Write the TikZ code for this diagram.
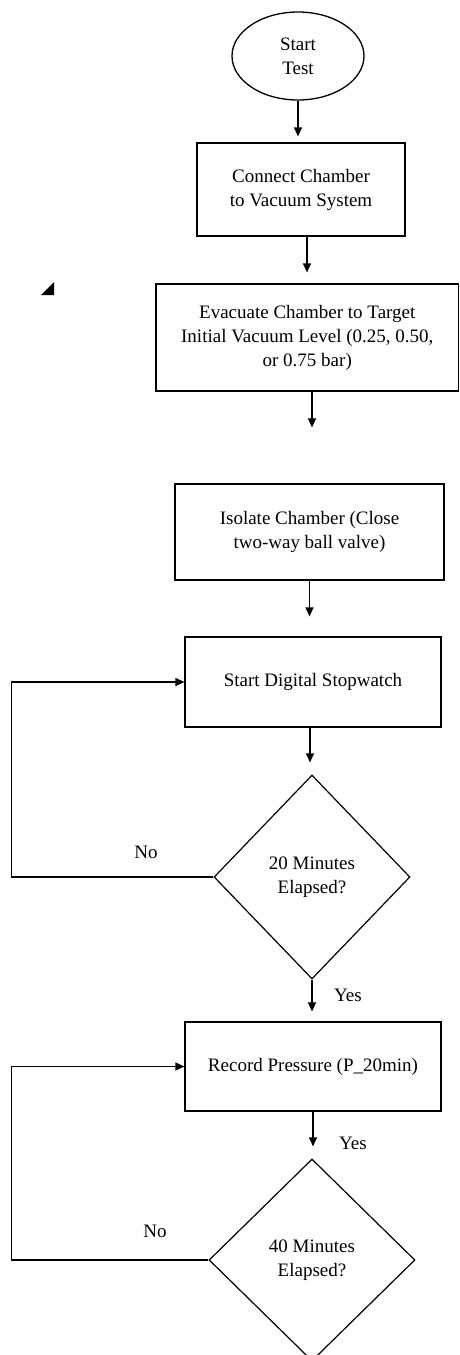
\documentclass[tikz,border=0pt]{standalone}
\usepackage{fontspec}
\setmainfont{Liberation Serif}
\usetikzlibrary{shapes.geometric,arrows.meta}

\begin{document}
\begin{tikzpicture}[x=1pt,y=-1pt,
  every node/.style={font=\fontsize{19}{24}\selectfont},
  proc/.style={draw,line width=1.2pt,rectangle,align=center,inner sep=0pt},
  decision/.style={draw,line width=1.2pt,diamond,align=center,inner sep=0pt},
  flow/.style={line width=1.2pt,-{Triangle[length=9pt,width=8pt]}}]
\useasboundingbox (0,0) rectangle (459,1355);
\clip (0,0) rectangle (459,1355);

\node[draw,ellipse,line width=1.3pt,minimum width=132pt,minimum height=88pt,align=center,inner sep=0pt] (start) at (298,56) {Start\\Test};
\node[proc,minimum width=208pt,minimum height=93pt] (connect) at (301,189.5) {Connect Chamber\\to Vacuum System};
\node[proc,minimum width=302.5pt,minimum height=107pt] (evacuate) at (307.25,337.5) {Evacuate Chamber to Target\\Initial Vacuum Level (0.25, 0.50,\\or 0.75 bar)};
\node[proc,minimum width=269pt,minimum height=96pt] (isolate) at (309.5,532) {Isolate Chamber (Close\\two-way ball valve)};
\node[proc,minimum width=256pt,minimum height=90pt] (stopwatch) at (313,682) {Start Digital Stopwatch};
\node[decision,minimum width=196pt,minimum height=204pt] (twenty) at (312,877) {20 Minutes\\Elapsed?};
\node[proc,minimum width=256pt,minimum height=89pt] (record) at (313,1066.5) {Record Pressure (P\_20min)};
\node[decision,minimum width=206pt,minimum height=202pt] (forty) at (312,1260) {40 Minutes\\Elapsed?};

% stray mark left of the evacuation box
\fill (41,295) -- (54,295) -- (54,282) -- cycle;

\draw[flow,shorten >=6pt] (start.south) -- (start.south |- connect.north);
\draw[flow,shorten >=11pt] ([xshift=6pt]connect.south) -- ([xshift=6pt]connect.south |- evacuate.north);
\draw[flow,shorten >=56pt] ([xshift=4.75pt]evacuate.south) -- ([xshift=4.75pt]evacuate.south |- isolate.north);
\draw[flow,shorten >=20pt] (isolate.south) -- (isolate.south |- stopwatch.north);
\draw[flow,shorten >=12pt] ([xshift=-3pt]stopwatch.south) -- ([xshift=-3pt]stopwatch.south |- twenty.north);
\draw[flow,shorten >=10pt] (twenty.south) -- (twenty.south |- record.north);
\draw[flow,shorten >=12pt] (record.south) -- (record.south |- forty.north);

% loops back
\draw[flow] (twenty.west) -- ++(-202,0) |- (stopwatch.west);
\draw[flow] (forty.west) -- ++(-197,0) |- (record.west);

\node (no1) at (146,852) {No};
\node (yes1) at (348,995) {Yes};
\node (yes2) at (353,1143) {Yes};
\node (no2) at (155,1231) {No};
\end{tikzpicture}
\end{document}
